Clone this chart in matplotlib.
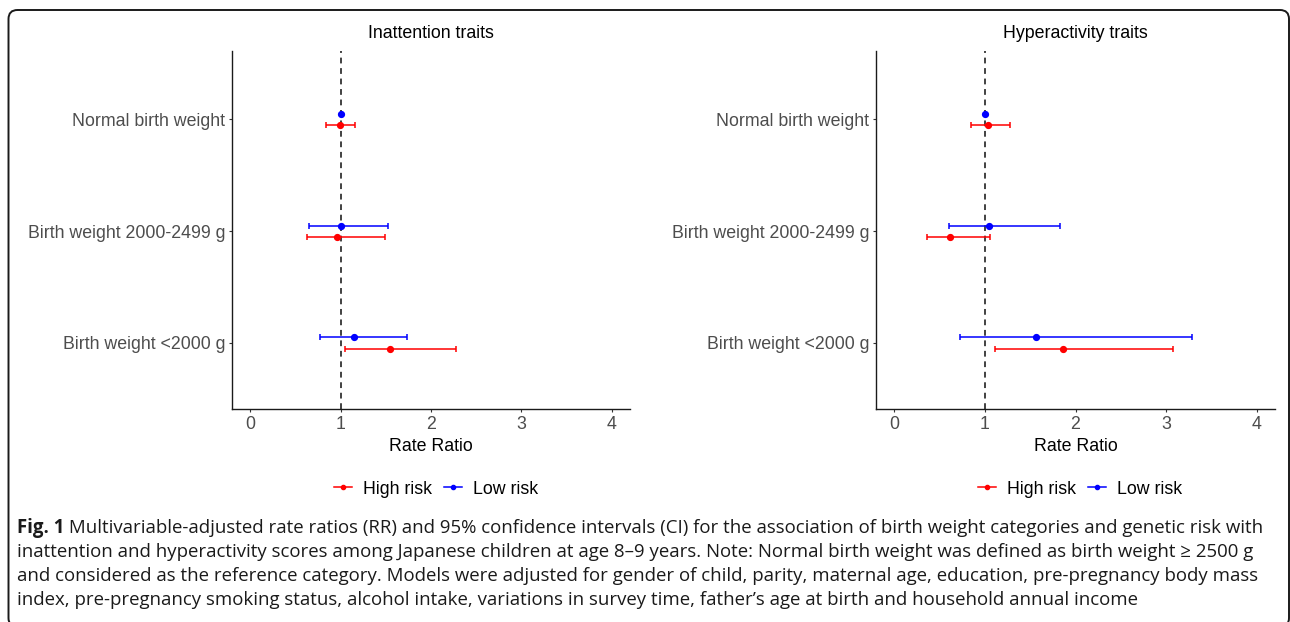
import matplotlib.pyplot as plt
from matplotlib.patches import FancyBboxPatch
from matplotlib.lines import Line2D

# categories bottom -> top on the y axis
categories = ["Birth weight <2000 g", "Birth weight 2000-2499 g", "Normal birth weight"]
legend_labels = ["High risk", "Low risk"]
panel_titles = ["Inattention traits", "Hyperactivity traits"]

inatt_high_rr = [1.55, 0.96, 0.99]
inatt_high_lo = [1.05, 0.63, 0.84]
inatt_high_hi = [2.28, 1.49, 1.16]
inatt_low_rr = [1.15, 1.00, 1.00]
inatt_low_lo = [0.77, 0.65, 1.00]
inatt_low_hi = [1.74, 1.52, 1.00]

hyper_high_rr = [1.86, 0.62, 1.04]
hyper_high_lo = [1.11, 0.36, 0.85]
hyper_high_hi = [3.08, 1.06, 1.28]
hyper_low_rr = [1.56, 1.05, 1.00]
hyper_low_lo = [0.73, 0.60, 1.00]
hyper_low_hi = [3.28, 1.83, 1.00]

caption_bold = "Fig. 1"
caption_lines = [
    " Multivariable-adjusted rate ratios (RR) and 95% confidence intervals (CI) for the association of birth weight categories and genetic risk with",
    "inattention and hyperactivity scores among Japanese children at age 8\u20139 years. Note: Normal birth weight was defined as birth weight \u2265 2500 g",
    "and considered as the reference category. Models were adjusted for gender of child, parity, maternal age, education, pre-pregnancy body mass",
    "index, pre-pregnancy smoking status, alcohol intake, variations in survey time, father\u2019s age at birth and household annual income",
]

plt.rcParams['font.family'] = ['Liberation Sans', 'DejaVu Sans']

W, H = 1290, 622
fig = plt.figure(figsize=(W / 100, H / 100), dpi=100)

# rounded frame around the whole figure
frame = FancyBboxPatch((8.5 / 100, -5 / 100), (1289 - 8.5) / 100, (612 + 5) / 100,
                       boxstyle="round,pad=0,rounding_size=0.09",
                       transform=fig.dpi_scale_trans, fill=False,
                       edgecolor="#1a1a1a", linewidth=1.4)
fig.patches.append(frame)

FS = 12.8
dodge = 0.05


def draw_panel(ax, title, high, low):
    ypos = [1, 2, 3]
    for (rr, lo, hi), color, shift in [(high, "red", -dodge), (low, "blue", dodge)]:
        err = [[r - l for r, l in zip(rr, lo)], [h - r for h, r in zip(hi, rr)]]
        ax.errorbar(rr, [y + shift for y in ypos], xerr=err, fmt="o", color=color,
                    ms=4.2, elinewidth=1.1, capsize=2.4, capthick=1.1)
    ax.axvline(1, color="#333333", linestyle=(0, (3.2, 2.6)), linewidth=1.3, zorder=0)
    ax.set_xlim(-0.2, 4.2)
    ax.set_ylim(0.41, 3.61)
    ax.set_yticks(ypos)
    ax.set_yticklabels(categories)
    ax.set_xticks([0, 1, 2, 3, 4])
    ax.tick_params(labelsize=FS, labelcolor="#4d4d4d", color="#333333", length=2.5, width=0.8, pad=2.5)
    for s in ["top", "right"]:
        ax.spines[s].set_visible(False)
    for s in ["left", "bottom"]:
        ax.spines[s].set_linewidth(1.0)
        ax.spines[s].set_color("#1a1a1a")
    ax.set_title(title, fontsize=FS, pad=9)
    ax.set_xlabel("Rate Ratio", fontsize=FS, labelpad=3.5)


ax1 = fig.add_axes([232 / W, (H - 409) / H, (630 - 232) / W, (409 - 51) / H])
ax2 = fig.add_axes([876 / W, (H - 409) / H, (1275 - 876) / W, (409 - 51) / H])
draw_panel(ax1, panel_titles[0], (inatt_high_rr, inatt_high_lo, inatt_high_hi),
           (inatt_low_rr, inatt_low_lo, inatt_low_hi))
draw_panel(ax2, panel_titles[1], (hyper_high_rr, hyper_high_lo, hyper_high_hi),
           (hyper_low_rr, hyper_low_lo, hyper_low_hi))

handles = [Line2D([0], [0], color="red", marker="o", ms=3, lw=1.1),
           Line2D([0], [0], color="blue", marker="o", ms=3, lw=1.1)]
for ax, cx in [(ax1, 436), (ax2, 1080)]:
    ax.legend(handles, legend_labels, loc="center", bbox_to_anchor=(cx / W, 1 - 489 / H),
              bbox_transform=fig.transFigure, ncol=2, frameon=False, fontsize=FS,
              handlelength=1.0, handletextpad=0.62, columnspacing=0.68, borderpad=0)

# caption
cap_fam = ["Open Sans", "DejaVu Sans"]
cap_fs = 13.4
x0 = 17 / W
line_y = [528, 552, 576, 600]
renderer = fig.canvas.get_renderer()
tb = fig.text(x0, 1 - line_y[0] / H, caption_bold, fontsize=cap_fs, family=cap_fam,
              weight="bold", va="center", color="#1a1a1a")
bw = tb.get_window_extent(renderer=renderer).width
for i, (line, y) in enumerate(zip(caption_lines, line_y)):
    x = x0 + (bw / W if i == 0 else 0)
    fig.text(x, 1 - y / H, line, fontsize=cap_fs, family=cap_fam, va="center", color="#1a1a1a")

fig.savefig("out.png", dpi=100)
